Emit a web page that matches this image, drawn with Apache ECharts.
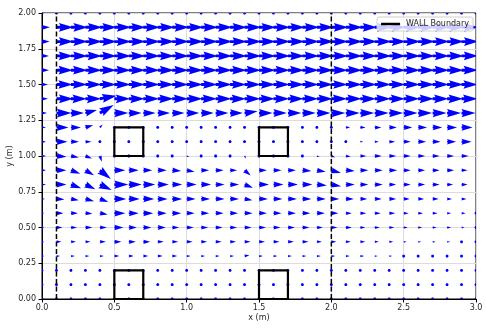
<!DOCTYPE html>
<html>
<head>
<meta charset="utf-8">
<script src="https://cdn.jsdelivr.net/npm/echarts/dist/echarts.min.js"></script>
<style>
html, body { margin: 0; padding: 0; background: #fff; }
#chart { width: 486px; height: 330px; }
</style>
</head>
<body>
<div id="chart"></div>
<script>
var xs = [0.0, 0.1, 0.2, 0.3, 0.4, 0.5, 0.6, 0.7, 0.8, 0.9, 1.0, 1.1, 1.2, 1.3, 1.4, 1.5,
    1.6, 1.7, 1.8, 1.9, 2.0, 2.1, 2.2, 2.3, 2.4, 2.5, 2.6, 2.7, 2.8, 2.9, 3.0]
var ys = [0.0, 0.1, 0.2, 0.3, 0.4, 0.5, 0.6, 0.7, 0.8, 0.9, 1.0, 1.1, 1.2, 1.3, 1.4, 1.5,
    1.6, 1.7, 1.8, 1.9, 2.0]

// speed per row (bottom row y=0.0 first), one value per x column
var speed = [
    [0.05, 0.05, 0.05, 0.05, 0.05, 0.05, 0.05, 0.05, 0.05, 0.05, 0.05, 0.05, 0.05, 0.05, 0.05, 0.05, 0.05, 0.05, 0.05, 0.05, 0.05, 0.05, 0.05, 0.05, 0.05, 0.05, 0.05, 0.05, 0.05, 0.05, 0.05],
    [0.05, 0.05, 0.05, 0.05, 0.05, 0.05, 0.05, 0.05, 0.05, 0.05, 0.05, 0.05, 0.05, 0.05, 0.05, 0.05, 0.05, 0.05, 0.05, 0.05, 0.05, 0.05, 0.05, 0.05, 0.05, 0.05, 0.05, 0.05, 0.05, 0.05, 0.05],
    [0.05, 0.05, 0.05, 0.05, 0.05, 0.05, 0.05, 0.05, 0.05, 0.05, 0.05, 0.05, 0.05, 0.05, 0.05, 0.05, 0.05, 0.05, 0.05, 0.05, 0.05, 0.05, 0.05, 0.05, 0.05, 0.05, 0.05, 0.05, 0.05, 0.05, 0.05],
    [0.08, 0.18, 0.2, 0.2, 0.2, 0.25, 0.25, 0.25, 0.25, 0.25, 0.2, 0.2, 0.2, 0.2, 0.25, 0.2, 0.2, 0.2, 0.2, 0.2, 0.2, 0.2, 0.2, 0.15, 0.15, 0.1, 0.1, 0.1, 0.1, 0.1, 0.1],
    [0.1, 0.25, 0.25, 0.25, 0.3, 0.35, 0.35, 0.35, 0.3, 0.3, 0.3, 0.3, 0.3, 0.3, 0.3, 0.3, 0.3, 0.3, 0.3, 0.25, 0.25, 0.25, 0.25, 0.2, 0.2, 0.15, 0.15, 0.15, 0.15, 0.12, 0.1],
    [0.1, 0.3, 0.3, 0.35, 0.35, 0.45, 0.4, 0.4, 0.4, 0.35, 0.35, 0.35, 0.35, 0.35, 0.35, 0.35, 0.35, 0.35, 0.35, 0.3, 0.3, 0.3, 0.25, 0.25, 0.25, 0.2, 0.2, 0.2, 0.2, 0.15, 0.1],
    [0.12, 0.35, 0.35, 0.35, 0.4, 0.55, 0.5, 0.5, 0.45, 0.45, 0.4, 0.4, 0.4, 0.4, 0.4, 0.4, 0.4, 0.4, 0.4, 0.4, 0.35, 0.3, 0.3, 0.3, 0.3, 0.25, 0.25, 0.25, 0.2, 0.2, 0.1],
    [0.15, 0.4, 0.4, 0.45, 0.45, 0.6, 0.55, 0.55, 0.5, 0.5, 0.45, 0.45, 0.45, 0.45, 0.4, 0.45, 0.45, 0.45, 0.45, 0.45, 0.4, 0.4, 0.35, 0.35, 0.35, 0.3, 0.3, 0.3, 0.25, 0.25, 0.2],
    [0.2, 0.5, 0.55, 0.55, 0.65, 0.7, 0.65, 0.6, 0.55, 0.5, 0.5, 0.5, 0.45, 0.45, 0.45, 0.5, 0.5, 0.5, 0.5, 0.5, 0.5, 0.45, 0.4, 0.4, 0.35, 0.35, 0.35, 0.35, 0.3, 0.3, 0.25],
    [0.2, 0.5, 0.5, 0.5, 0.7, 0.55, 0.5, 0.45, 0.45, 0.45, 0.4, 0.4, 0.4, 0.35, 0.4, 0.4, 0.4, 0.4, 0.45, 0.45, 0.5, 0.45, 0.4, 0.4, 0.4, 0.35, 0.35, 0.35, 0.35, 0.3, 0.3],
    [0.2, 0.5, 0.4, 0.35, 0.3, 0.05, 0.05, 0.05, 0.05, 0.05, 0.15, 0.12, 0.1, 0.1, 0.15, 0.05, 0.05, 0.05, 0.1, 0.15, 0.2, 0.25, 0.3, 0.35, 0.35, 0.35, 0.35, 0.35, 0.35, 0.35, 0.35],
    [0.2, 0.55, 0.4, 0.3, 0.1, 0.05, 0.05, 0.05, 0.05, 0.05, 0.05, 0.05, 0.05, 0.05, 0.05, 0.05, 0.05, 0.05, 0.05, 0.05, 0.05, 0.05, 0.15, 0.2, 0.3, 0.35, 0.4, 0.4, 0.45, 0.5, 0.5],
    [0.2, 0.6, 0.5, 0.4, 0.2, 0.05, 0.05, 0.05, 0.05, 0.05, 0.08, 0.08, 0.08, 0.08, 0.05, 0.05, 0.05, 0.05, 0.05, 0.05, 0.08, 0.22, 0.27, 0.33, 0.38, 0.43, 0.45, 0.48, 0.5, 0.55, 0.55],
    [0.25, 0.75, 0.65, 0.6, 0.8, 0.7, 0.64, 0.62, 0.62, 0.62, 0.63, 0.63, 0.64, 0.64, 0.66, 0.68, 0.67, 0.67, 0.67, 0.68, 0.7, 0.7, 0.7, 0.7, 0.7, 0.7, 0.7, 0.7, 0.7, 0.7, 0.7],
    [0.3, 0.85, 0.8, 0.8, 0.85, 0.8, 0.8, 0.8, 0.8, 0.8, 0.8, 0.8, 0.8, 0.8, 0.8, 0.8, 0.8, 0.8, 0.8, 0.8, 0.8, 0.8, 0.8, 0.8, 0.8, 0.8, 0.8, 0.8, 0.8, 0.8, 0.8],
    [0.3, 0.82, 0.82, 0.82, 0.82, 0.82, 0.82, 0.82, 0.82, 0.82, 0.82, 0.82, 0.82, 0.82, 0.82, 0.82, 0.82, 0.82, 0.82, 0.82, 0.82, 0.82, 0.82, 0.82, 0.82, 0.82, 0.82, 0.82, 0.82, 0.82, 0.82],
    [0.35, 0.83, 0.83, 0.83, 0.83, 0.83, 0.83, 0.83, 0.83, 0.83, 0.83, 0.83, 0.83, 0.83, 0.83, 0.83, 0.83, 0.83, 0.83, 0.83, 0.83, 0.83, 0.83, 0.83, 0.83, 0.83, 0.83, 0.83, 0.83, 0.83, 0.83],
    [0.35, 0.84, 0.84, 0.84, 0.84, 0.84, 0.84, 0.84, 0.84, 0.84, 0.84, 0.84, 0.84, 0.84, 0.84, 0.84, 0.84, 0.84, 0.84, 0.84, 0.84, 0.84, 0.84, 0.84, 0.84, 0.84, 0.84, 0.84, 0.84, 0.84, 0.84],
    [0.38, 0.85, 0.85, 0.85, 0.85, 0.85, 0.85, 0.85, 0.85, 0.85, 0.85, 0.85, 0.85, 0.85, 0.85, 0.85, 0.85, 0.85, 0.85, 0.85, 0.85, 0.85, 0.85, 0.85, 0.85, 0.85, 0.85, 0.85, 0.85, 0.85, 0.85],
    [0.4, 0.85, 0.85, 0.85, 0.85, 0.85, 0.85, 0.85, 0.85, 0.85, 0.85, 0.85, 0.85, 0.85, 0.85, 0.85, 0.85, 0.85, 0.85, 0.85, 0.85, 0.85, 0.85, 0.85, 0.85, 0.85, 0.85, 0.85, 0.85, 0.85, 0.85],
    [0.05, 0.05, 0.05, 0.05, 0.05, 0.05, 0.05, 0.05, 0.05, 0.05, 0.05, 0.05, 0.05, 0.05, 0.05, 0.05, 0.05, 0.05, 0.05, 0.05, 0.05, 0.05, 0.05, 0.05, 0.05, 0.05, 0.05, 0.05, 0.05, 0.05, 0.05]
]

// flow direction where it is not horizontal: [x, y, degrees]
var tilts = [
    [0.4, 1.4, 10], [0.3, 1.3, 15], [0.4, 1.3, 30], [1.4, 1.3, 8],
    [0.3, 1.2, 15], [0.4, 1.2, 45],
    [0.1, 1.0, -5], [0.2, 1.0, -10], [0.3, 1.0, -20], [0.4, 1.0, -70], [1.0, 1.0, -20],
    [1.4, 1.0, -60], [1.9, 1.0, -20], [2.0, 1.0, -20], [2.1, 1.0, -10],
    [0.2, 0.9, -20], [0.3, 0.9, -30], [0.4, 0.9, -38], [0.9, 0.9, -5], [1.0, 0.9, -10],
    [1.4, 0.9, -40], [1.8, 0.9, -5], [1.9, 0.9, -10], [2.0, 0.9, -15], [2.1, 0.9, -5],
    [0.2, 0.8, -20], [0.3, 0.8, -25], [0.4, 0.8, -25], [1.4, 0.8, -20], [1.9, 0.8, -5], [2.0, 0.8, -10],
    [0.1, 0.7, -5], [0.2, 0.7, -10], [0.3, 0.7, -15], [0.4, 0.7, -20], [1.4, 0.7, -10],
    [0.3, 0.6, -5], [0.4, 0.6, -10],
    [1.4, 0.3, 10]
]

var walls = [[0.5, 1.0, 0.7, 1.2], [1.5, 1.0, 1.7, 1.2], [0.5, 0.0, 0.7, 0.2], [1.5, 0.0, 1.7, 0.2]]
var dividers = [0.1, 2.0]

var SCALE = 20   // px per unit speed
var W = 2.9      // shaft width px (matplotlib quiver style)

function tiltAt(x, y) {
    for (var k = 0; k < tilts.length; k++) {
        if (Math.abs(tilts[k][0] - x) < 1e-6 && Math.abs(tilts[k][1] - y) < 1e-6)
            return tilts[k][2]
    }
    return 0
}

var arrowData = []
for (var i = 0; i < ys.length; i++) {
    for (var j = 0; j < xs.length; j++) {
        var s = speed[i][j]
        var a = tiltAt(xs[j], ys[i]) * Math.PI / 180
        arrowData.push([xs[j], ys[i], s * Math.cos(a), s * Math.sin(a)])
    }
}

function renderArrow(params, api) {
    var p = api.coord([api.value(0), api.value(1)])
    var u = api.value(2), v = api.value(3)
    var L = Math.sqrt(u * u + v * v) * SCALE / W
    var shape
    if (L < 1) {
        shape = []
        for (var t = 0; t < 6; t++)
            shape.push([Math.cos(t * Math.PI / 3) * 0.55, Math.sin(t * Math.PI / 3) * 0.55])
    } else if (L < 5) {
        var k = L / 5
        shape = [[0, 0.5 * k], [0.5 * k, 0.5 * k], [0, 1.5 * k], [5 * k, 0], [0, -1.5 * k], [0.5 * k, -0.5 * k], [0, -0.5 * k]]
    } else {
        shape = [[0, 0.5], [L - 4.5, 0.5], [L - 5, 1.5], [L, 0], [L - 5, -1.5], [L - 4.5, -0.5], [0, -0.5]]
    }
    var ang = Math.atan2(-v, u)
    var c = Math.cos(ang), sn = Math.sin(ang)
    var pts = shape.map(function(q) {
        return [p[0] + (q[0] * c - q[1] * sn) * W, p[1] + (q[0] * sn + q[1] * c) * W]
    })
    return {
        type: 'polygon',
        shape: { points: pts },
        style: { fill: '#0000ff' }
    }
}

var series = [{
    type: 'custom',
    name: 'flow',
    renderItem: renderArrow,
    data: arrowData,
    encode: { x: 0, y: 1 },
    clip: true,
    silent: true,
    z: 2
}]

walls.forEach(function(b) {
    series.push({
        type: 'line',
        name: 'WALL Boundary',
        data: [[b[0], b[1]], [b[2], b[1]], [b[2], b[3]], [b[0], b[3]], [b[0], b[1]]],
        symbol: 'none',
        silent: true,
        z: 4,
        itemStyle: { color: '#000' },
        lineStyle: { color: '#000', width: 2.2 }
    })
})

dividers.forEach(function(x) {
    series.push({
        type: 'line',
        name: 'divider',
        data: [[x, 0], [x, 2]],
        symbol: 'none',
        silent: true,
        z: 4,
        lineStyle: { color: '#000', width: 1.5, type: [5, 2.5] }
    })
})

var textColor = '#262626'
var chart = echarts.init(document.getElementById('chart'))
chart.setOption({
    animation: false,
    grid: {
        left: 42, right: 10, top: 13, bottom: 31,
        containLabel: false, outerBoundsMode: 'none',
        show: true, borderColor: '#000', borderWidth: 1, backgroundColor: 'transparent'
    },
    legend: {
        data: [{ name: 'WALL Boundary', icon: 'rect' }],
        right: 13, top: 17,
        itemWidth: 19, itemHeight: 2.5, itemGap: 5,
        padding: [3, 4, 3, 4],
        backgroundColor: 'rgba(255,255,255,0.8)',
        borderColor: '#d0d0d0', borderWidth: 1, borderRadius: 2,
        textStyle: { fontFamily: 'DejaVu Sans', fontSize: 8, color: textColor, padding: [0, 0, 0, 1] }
    },
    xAxis: {
        type: 'value', min: 0, max: 3, interval: 0.5,
        name: 'x (m)', nameLocation: 'middle', nameGap: 15, nameMoveOverlap: false,
        nameTextStyle: { fontFamily: 'DejaVu Sans', fontSize: 8, color: textColor },
        axisLine: { show: true, lineStyle: { color: '#000', width: 1 } },
        axisTick: { show: true, length: 3.5, lineStyle: { color: '#000' } },
        axisLabel: {
            fontFamily: 'DejaVu Sans', fontSize: 8, color: textColor, margin: 5,
            formatter: function(v) { return v.toFixed(1) }
        },
        splitLine: { show: true, lineStyle: { color: '#dcdcdc', width: 1 } }
    },
    yAxis: {
        type: 'value', min: 0, max: 2, interval: 0.25,
        name: 'y (m)', nameLocation: 'middle', nameGap: 28, nameRotate: 90, nameMoveOverlap: false,
        nameTextStyle: { fontFamily: 'DejaVu Sans', fontSize: 8, color: textColor },
        axisLine: { show: true, lineStyle: { color: '#000', width: 1 } },
        axisTick: { show: true, length: 3.5, lineStyle: { color: '#000' } },
        axisLabel: {
            fontFamily: 'DejaVu Sans', fontSize: 8, color: textColor, margin: 6,
            formatter: function(v) { return v.toFixed(2) }
        },
        splitLine: { show: true, lineStyle: { color: '#dcdcdc', width: 1 } }
    },
    series: series
})
</script>
</body>
</html>
